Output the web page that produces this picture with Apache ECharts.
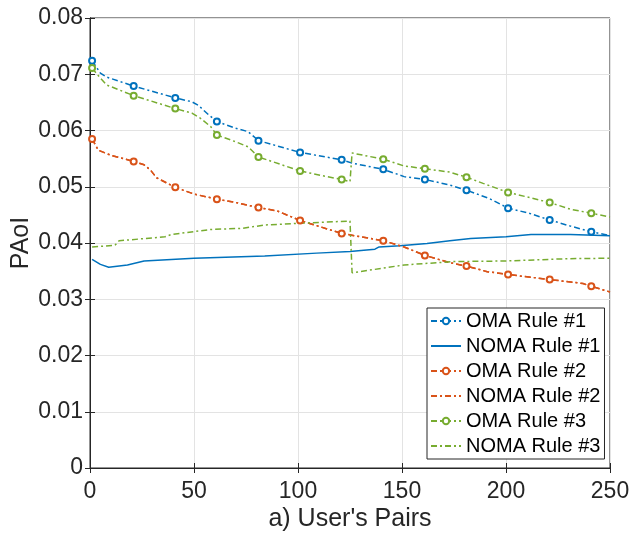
<!DOCTYPE html>
<html>
<head>
<meta charset="utf-8">
<script src="https://cdn.jsdelivr.net/npm/echarts@6/dist/echarts.min.js"></script>
<style>
html,body{margin:0;padding:0;background:#fff;}
#chart{width:629px;height:533px;}
</style>
</head>
<body>
<div id="chart"></div>
<script>
// ---- data ----
const seriesNames = ['OMA Rule #1','NOMA Rule #1','OMA Rule #2','NOMA Rule #2','OMA Rule #3','NOMA Rule #3'];
const markerX = [1,21,41,61,81,101,121,141,161,181,201,221,241];
const xTicks = [0,50,100,150,200,250];
const yTicks = [0,0.01,0.02,0.03,0.04,0.05,0.06,0.07,0.08];

const oma1X = [1,5,8,21,41,49,52,57,61,70,76,81,101,121,126,141,151,161,173,181,192,201,211,221,231,241,250];
const oma1Y = [0.0724,0.0702,0.0695,0.0679,0.0658,0.0651,0.0645,0.0628,0.0616,0.0604,0.0598,0.0582,0.0561,0.0548,0.0542,0.0531,0.0518,0.0513,0.0503,0.0494,0.0479,0.0462,0.0453,0.0441,0.0430,0.0420,0.0413];

const noma1X = [1,5,9,18,26,50,84,109,125,137,139,149,162,173,183,200,212,231,250];
const noma1Y = [0.0371,0.0362,0.0357,0.0361,0.0368,0.0373,0.0377,0.0382,0.0385,0.0389,0.0393,0.0395,0.0399,0.0404,0.0408,0.0411,0.0415,0.0415,0.0413];

const oma2X = [1,4,10,21,26,29,32,41,50,61,70,81,90,101,121,141,151,161,173,181,191,201,221,237,241,250];
const oma2Y = [0.0585,0.0565,0.0556,0.0545,0.0539,0.0530,0.0516,0.0499,0.0487,0.0478,0.0472,0.0463,0.0457,0.0440,0.0417,0.0404,0.0393,0.0378,0.0365,0.0359,0.0349,0.0344,0.0335,0.0328,0.0323,0.0313];

const noma2X = [1,4,10,21,26,29,32,41,50,61,70,81,90,101,121,141,151,161,173,181,191,201,221,237,241,250];
const noma2Y = [0.0585,0.0565,0.0556,0.0545,0.0539,0.0530,0.0516,0.0499,0.0487,0.0478,0.0472,0.0463,0.0457,0.0440,0.0417,0.0404,0.0393,0.0378,0.0365,0.0359,0.0349,0.0344,0.0335,0.0328,0.0323,0.0313];

const oma3X = [1,5,8,21,41,49,53,58,61,70,76,81,101,114,121,125,126,141,151,161,173,181,189,201,210,221,231,241,250];
const oma3Y = [0.0711,0.0693,0.0681,0.0662,0.0639,0.0631,0.0622,0.0607,0.0592,0.0580,0.0571,0.0553,0.0528,0.0518,0.0513,0.0509,0.0560,0.0549,0.0537,0.0532,0.0526,0.0517,0.0506,0.0490,0.0482,0.0472,0.0460,0.0453,0.0446];

const noma3X = [1,12,14,36,39,58,73,84,101,125,126,151,175,200,229,250];
const noma3Y = [0.0393,0.0396,0.0404,0.0411,0.0415,0.0424,0.0426,0.0432,0.0435,0.0439,0.0347,0.0361,0.0367,0.0368,0.0372,0.0373];

// ---- styling ----
const BLUE = '#0072BD', ORANGE = '#D95319', GREEN = '#77AC30';
const FONT = '"Liberation Sans", Arial, Helvetica, sans-serif';
const DASHDOT = [6,3,2,3];

function buildData(xs, ys, withMarkers) {
  return xs.map((x, i) => {
    const item = { value: [x, ys[i]] };
    if (!(withMarkers && markerX.includes(x))) item.symbol = 'none';
    return item;
  });
}

function mkSeries(name, xs, ys, color, dash, markers) {
  return {
    name: name,
    type: 'line',
    data: buildData(xs, ys, markers),
    symbol: markers ? 'emptyCircle' : 'none',
    symbolSize: 6,
    showSymbol: markers,
    showAllSymbol: true,
    lineStyle: { color: color, width: 1.5, type: dash },
    itemStyle: { color: color, borderColor: color, borderWidth: 1.5 },
    emphasis: { disabled: true },
    animation: false
  };
}

const chart = echarts.init(document.getElementById('chart'), null, { renderer: 'canvas' });

const axisCommon = {
  type: 'value',
  axisLine: { show: true, lineStyle: { color: '#262626', width: 1 } },
  axisTick: { show: true, inside: true, length: 5, lineStyle: { color: '#262626' } },
};

const legendData = seriesNames.map((n, i) => (i % 2 === 1)
  ? { name: n, itemStyle: { opacity: 0, color: 'transparent', borderColor: 'transparent' } }
  : { name: n });

chart.setOption({
  backgroundColor: '#fff',
  animation: false,
  textStyle: { fontFamily: FONT },
  grid: { left: 90, right: 19, top: 18, bottom: 65, show: true, borderColor: '#262626', borderWidth: 1,
          backgroundColor: 'transparent', containLabel: false, outerBoundsMode: 'none' },
  legend: {
    data: legendData,
    orient: 'vertical',
    left: 427,
    top: 308,
    padding: [3, 4, 3, 3],
    itemGap: 5,
    itemWidth: 30,
    itemHeight: 8,
    backgroundColor: '#fff',
    borderColor: '#262626',
    borderWidth: 1,
    borderRadius: 0,
    textStyle: { fontFamily: FONT, fontSize: 20, color: '#000', lineHeight: 20 },
    selectedMode: false
  },
  xAxis: [
    Object.assign({}, axisCommon, {
      min: xTicks[0], max: xTicks[xTicks.length - 1], interval: 50,
      name: "a) User's Pairs",
      nameLocation: 'middle',
      nameGap: 39,
      nameMoveOverlap: false,
      nameTextStyle: { fontFamily: FONT, fontSize: 25, color: '#262626' },
      axisLabel: { fontFamily: FONT, fontSize: 23, color: '#262626', margin: 12 },
      splitLine: { show: true, lineStyle: { color: '#e3e3e3', width: 1 } }
    }),
    Object.assign({}, axisCommon, {
      position: 'top',
      min: xTicks[0], max: xTicks[xTicks.length - 1], interval: 50,
      axisLabel: { show: false },
      splitLine: { show: false }
    })
  ],
  yAxis: [
    Object.assign({}, axisCommon, {
      min: yTicks[0], max: yTicks[yTicks.length - 1], interval: 0.01,
      name: 'PAoI',
      nameLocation: 'middle',
      nameGap: 56,
      nameMoveOverlap: false,
      nameTextStyle: { fontFamily: FONT, fontSize: 25, color: '#262626' },
      axisLabel: {
        fontFamily: FONT, fontSize: 23, color: '#262626', margin: 7,
        formatter: v => (Math.abs(v) < 1e-9 ? '0' : v.toFixed(2))
      },
      splitLine: { show: true, lineStyle: { color: '#e3e3e3', width: 1 } }
    }),
    Object.assign({}, axisCommon, {
      position: 'right',
      min: yTicks[0], max: yTicks[yTicks.length - 1], interval: 0.01,
      axisLabel: { show: false },
      splitLine: { show: false }
    })
  ],
  series: [
    mkSeries(seriesNames[0], oma1X, oma1Y, BLUE, DASHDOT, true),
    mkSeries(seriesNames[1], noma1X, noma1Y, BLUE, 'solid', false),
    mkSeries(seriesNames[2], oma2X, oma2Y, ORANGE, DASHDOT, true),
    mkSeries(seriesNames[3], noma2X, noma2Y, ORANGE, DASHDOT, false),
    mkSeries(seriesNames[4], oma3X, oma3Y, GREEN, DASHDOT, true),
    mkSeries(seriesNames[5], noma3X, noma3Y, GREEN, DASHDOT, false)
  ]
});
</script>
</body>
</html>
